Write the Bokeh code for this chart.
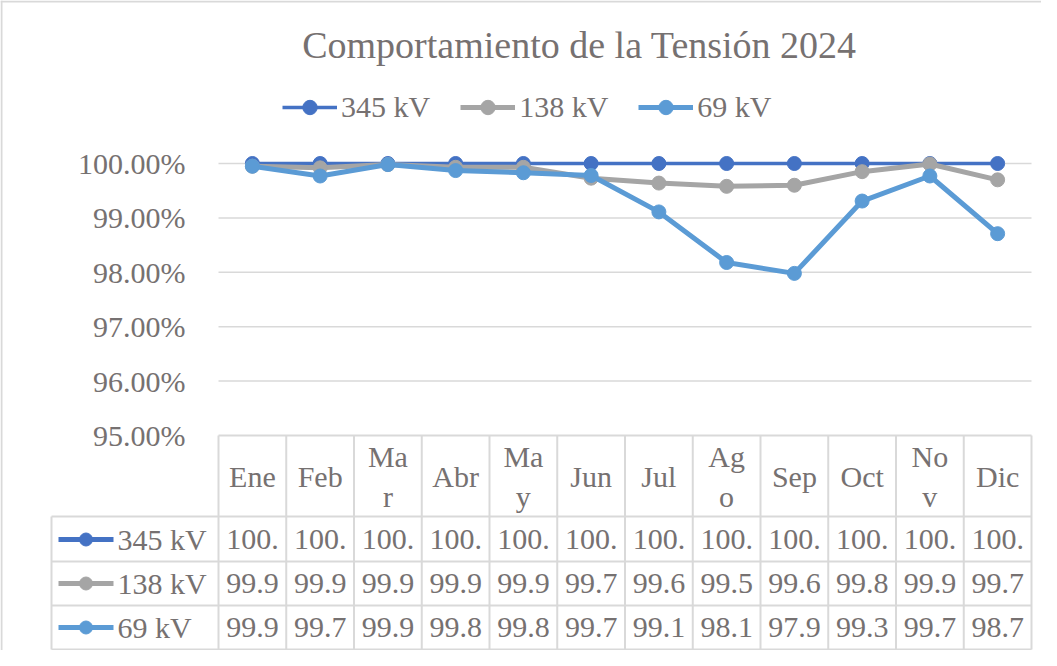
from bokeh.plotting import figure
from bokeh.models import Range1d, Legend, LegendItem, Label, Span
from bokeh.core.properties import value
from bokeh.embed import file_html
from bokeh.resources import INLINE

# ---------------- data ----------------
title_text = "Comportamiento de la Tensión 2024"
months = ["Ene", "Feb", "Mar", "Abr", "May", "Jun", "Jul", "Ago", "Sep", "Oct", "Nov", "Dic"]
series_names = ["345 kV", "138 kV", "69 kV"]
v345 = [100.00, 100.00, 100.00, 100.00, 100.00, 100.00, 100.00, 100.00, 100.00, 100.00, 100.00, 100.00]
v138 = [99.95, 99.92, 99.98, 99.93, 99.93, 99.73, 99.64, 99.58, 99.60, 99.85, 99.99, 99.70]
v69 = [99.95, 99.77, 99.98, 99.87, 99.83, 99.78, 99.11, 98.18, 97.98, 99.31, 99.77, 98.71]
y_ticks = [95, 96, 97, 98, 99, 100]
wrapped_months = ["Mar", "May", "Ago", "Nov"]

# ---------------- style ----------------
colors = ["#4472C4", "#A5A5A5", "#5B9BD5"]
line_widths = [3.5, 5, 5]
TEXT = "#767171"
GRID = "#D9D9D9"
FONT = "Liberation Serif"
FS = "30px"

W, H = 1041, 650
PX = 67.75          # pixels per category
PY = 54.4           # pixels per percent
X0 = -0.5 - (226 - 8) / PX
Y_TOP = 100 + (171 - 8) / PY


def rx(px):
    return X0 + (px - 8) / PX


def ry(py):
    return Y_TOP - (py - 8) / PY


p = figure(width=W, height=H,
           x_range=Range1d(X0, X0 + W / PX),
           y_range=Range1d(Y_TOP - H / PY, Y_TOP),
           x_axis_location=None, y_axis_location=None,
           output_backend="svg", toolbar_location=None,
           min_border=0, outline_line_color=None)
p.grid.visible = False
p.background_fill_color = "white"
p.border_fill_color = "white"

# chart border (left + top visible)
p.add_layout(Span(location=rx(9), dimension="height", line_color=GRID, line_width=2))
p.add_layout(Span(location=ry(9), dimension="width", line_color=GRID, line_width=2))

# title
p.add_layout(Label(x=rx(587), y=ry(52), text=title_text, text_align="center",
                   text_baseline="middle", text_font=FONT, text_font_size="38px",
                   text_color=TEXT))

# gridlines
grid_y = [t for t in y_ticks if t != y_ticks[0]]
p.segment(x0=[-0.5] * len(grid_y), x1=[len(months) - 0.5] * len(grid_y),
          y0=grid_y, y1=grid_y, line_color=GRID, line_width=1.5)

# y tick labels
p.text(x=[rx(193)] * len(y_ticks), y=y_ticks, text=[f"{t:.2f}%" for t in y_ticks],
       text_align="right", text_baseline="middle", text_font=value(FONT),
       text_font_size=FS, text_color=TEXT)

# series
xs = list(range(len(months)))
all_vals = [v345, v138, v69]
items = []
for name, vals, c, lw in zip(series_names, all_vals, colors, line_widths):
    lr = p.line(x=xs, y=vals, line_color=c, line_width=lw)
    sr = p.scatter(x=xs, y=vals, size=14, fill_color=c, line_color=c)
    items.append(LegendItem(label=name, renderers=[lr, sr]))

legend = Legend(items=items, orientation="horizontal", location=(282, H - 107 - 18),
                label_text_font=FONT, label_text_font_size=FS, label_text_color=TEXT,
                glyph_width=55, glyph_height=36, label_height=36, label_width=10,
                label_standoff=4, spacing=30, padding=0, margin=0,
                border_line_color=None, background_fill_alpha=0)
p.add_layout(legend, "center")

# ---------------- data table ----------------
n = len(months)
row_edges = [ry(524), ry(569), ry(613), ry(657)]
bottom = row_edges[-1]
# horizontal lines
p.segment(x0=[-0.5], x1=[n - 0.5], y0=[y_ticks[0]], y1=[y_ticks[0]], line_color=GRID, line_width=2)
p.segment(x0=[rx(59)] * 4, x1=[n - 0.5] * 4, y0=row_edges, y1=row_edges, line_color=GRID, line_width=2)
# vertical lines
vx = [k - 0.5 for k in range(n + 1)]
p.segment(x0=vx, x1=vx, y0=[y_ticks[0]] * len(vx), y1=[bottom] * len(vx), line_color=GRID, line_width=2)
p.segment(x0=[rx(59)], x1=[rx(59)], y0=[row_edges[0]], y1=[bottom], line_color=GRID, line_width=2)

# header
hdr = [m[:2] + "\n" + m[2:] if m in wrapped_months else m for m in months]
p.text(x=xs, y=[ry(484)] * n, text=hdr, text_align="center", text_baseline="middle",
       text_font=value(FONT), text_font_size=FS, text_color=TEXT, text_line_height=1.2)

# rows
row_centers = [ry(547), ry(591), ry(635)]
for name, vals, c, lw, yc in zip(series_names, all_vals, colors, line_widths, row_centers):
    p.segment(x0=[rx(66)], x1=[rx(121)], y0=[yc], y1=[yc], line_color=c, line_width=5)
    p.scatter(x=[rx(93.5)], y=[yc], size=13, fill_color=c, line_color=c)
    p.text(x=[rx(125)], y=[yc], text=[name], text_align="left", text_baseline="middle",
           text_font=value(FONT), text_font_size=FS, text_color=TEXT)
    p.text(x=xs, y=[yc] * n, text=[f"{v:.2f}%"[:4] for v in vals], text_align="center",
           text_baseline="middle", text_font=value(FONT), text_font_size=FS, text_color=TEXT)

open("out.html", "w").write(file_html(p, INLINE))
